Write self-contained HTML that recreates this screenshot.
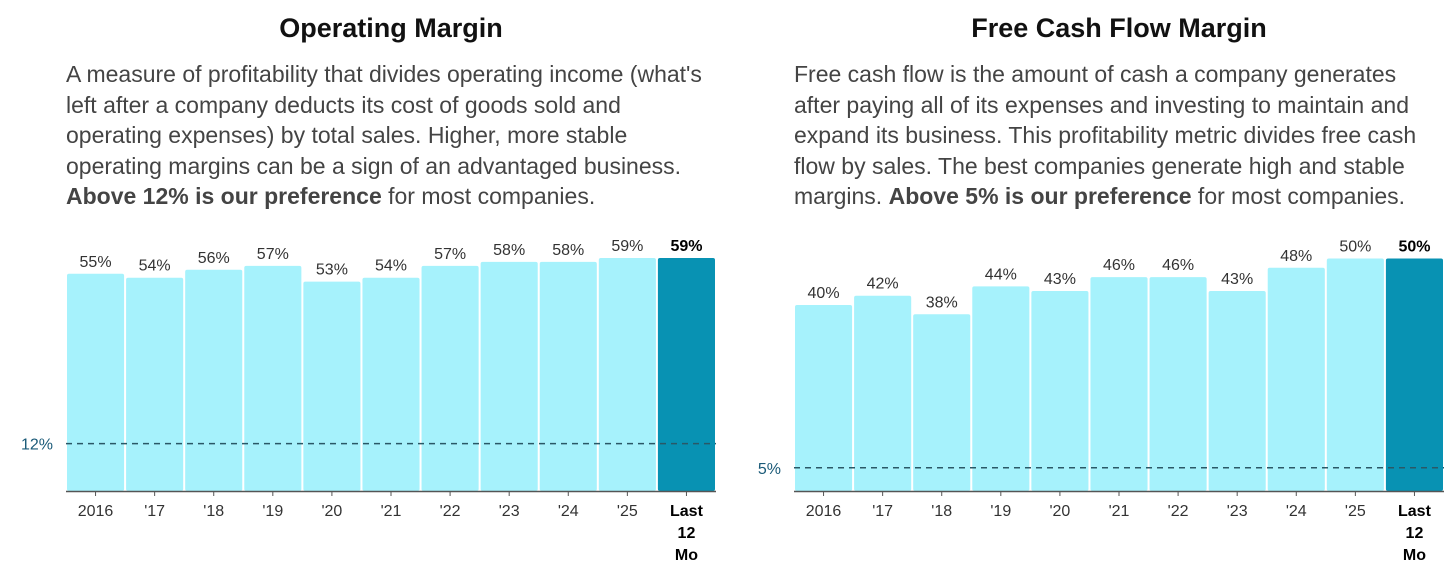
<!DOCTYPE html>
<html><head><meta charset="utf-8"><style>
body{margin:0;width:1456px;height:567px;background:#fff;font-family:"Liberation Sans",sans-serif;overflow:hidden;position:relative}
.title{position:absolute;top:13px;font-size:27px;font-weight:bold;color:#111;text-align:center}
.desc{position:absolute;top:59px;font-size:23px;line-height:30.5px;color:#444;white-space:nowrap}
.desc b{color:#444}
svg{position:absolute;left:0;top:0}
</style></head><body>
<div class="title" style="left:66px;width:650px">Operating Margin</div>
<div class="title" style="left:794px;width:650px">Free Cash Flow Margin</div>
<div class="desc" style="left:66px">A measure of profitability that divides operating income (what's<br>left after a company deducts its cost of goods sold and<br>operating expenses) by total sales. Higher, more stable<br>operating margins can be a sign of an advantaged business.<br><b>Above 12% is our preference</b> for most companies.</div>
<div class="desc" style="left:794px">Free cash flow is the amount of cash a company generates<br>after paying all of its expenses and investing to maintain and<br>expand its business. This profitability metric divides free cash<br>flow by sales. The best companies generate high and stable<br>margins. <b>Above 5% is our preference</b> for most companies.</div>
<svg id="chart" width="1456" height="567"></svg>
<script>
const categories=["2016","'17","'18","'19","'20","'21","'22","'23","'24","'25","Last 12 Mo"];
const opValues=[55,54,56,57,53,54,57,58,58,59,59];
const fcfValues=[40,42,38,44,43,46,46,43,48,50,50];
const opThreshold=12;
const fcfThreshold=5;
const svg=document.getElementById('chart');
const NS='http://www.w3.org/2000/svg';
function mk(t,a){const e=document.createElementNS(NS,t);for(const k in a)e.setAttribute(k,a[k]);svg.appendChild(e);return e;}
function draw(prefix,x0,x1,vals,thr,pxPer){
  const base=491,slot=(x1-x0)/categories.length;
  const y=v=>base-v*pxPer;
  vals.forEach((v,i)=>{
    const last=i===categories.length-1;
    const r=mk('rect',{x:x0+i*slot+1,y:y(v),width:slot-2,height:base-y(v),rx:2,fill:last?'#0892b3':'#a6f2fc'});
    
    
    const t=mk('text',{x:x0+i*slot+slot/2,y:y(v)-7,'text-anchor':'middle','font-size':16,fill:last?'#000':'#333','font-weight':last?'bold':'normal'});
    t.textContent=v+'%';
    
    
    mk('line',{x1:x0+i*slot+slot/2,x2:x0+i*slot+slot/2,y1:base,y2:base+5,stroke:'#555'});
    const parts=last?['Last','12','Mo']:[categories[i]];
    parts.forEach((p,j)=>{
      const l=mk('text',{x:x0+i*slot+slot/2,y:base+25+j*22,'text-anchor':'middle','font-size':16,fill:last?'#000':'#333','font-weight':last?'bold':'normal'});
      l.textContent=p;
      
      
    });
  });
  const ax=mk('line',{x1:x0,x2:x1,y1:base+0.5,y2:base+0.5,stroke:'#555','stroke-width':1.5});
  
  
  const d=mk('line',{x1:x0,x2:x1,y1:y(thr),y2:y(thr),stroke:'#2a5866','stroke-width':1.5,'stroke-dasharray':'6,5'});
  
  
  const tl=mk('text',{x:x0-13,y:y(thr)+6,'text-anchor':'end','font-size':16,fill:'#1a5a78'});
  tl.textContent=thr+'%';
  
  
}
draw('op',66,716,opValues,opThreshold,3.95);
draw('fcf',794,1444,fcfValues,fcfThreshold,4.65);
</script>
</body></html>
